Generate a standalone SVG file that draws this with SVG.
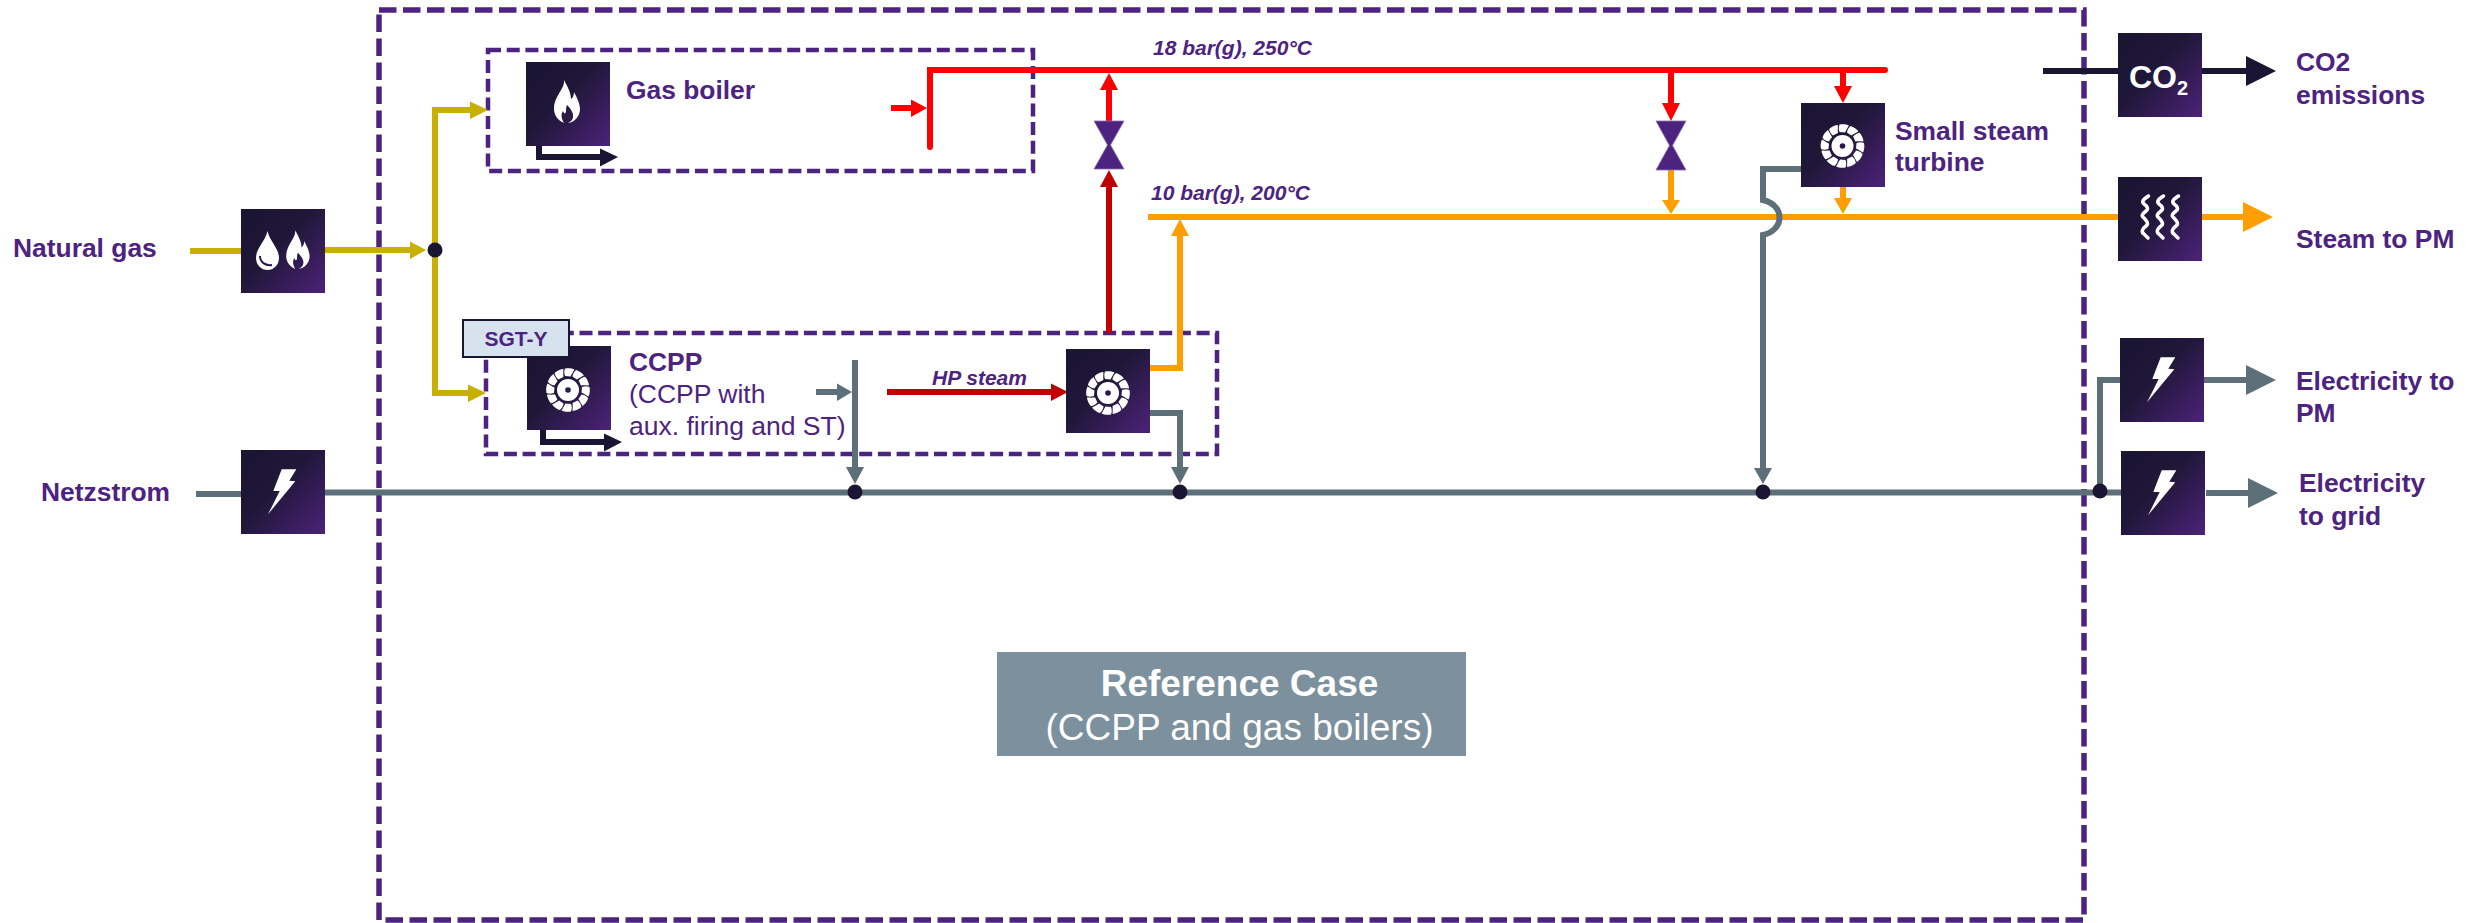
<svg xmlns="http://www.w3.org/2000/svg" width="2468" height="923" viewBox="0 0 2468 923">
<style>
text{font-family:"Liberation Sans",Arial,sans-serif;fill:#4d2380}
.l{font-size:26.400px;font-weight:bold}
.r{font-size:26.500px}
.i{font-size:21px;font-weight:bold;font-style:italic}
.box{fill:none;stroke:#4d2380}
.big{stroke-width:5.500;stroke-dasharray:17.500 6.500}
.sm{stroke-width:4.500;stroke-dasharray:13 5.700}
.c{fill:none;stroke-width:6}
.y{stroke:#c8b000}.yf{fill:#c8b000}
.rd{stroke:#ff0000}.rdf{fill:#ff0000}
.dr{stroke:#c00000}.drf{fill:#c00000}
.o{stroke:#ff9e00}.of{fill:#ff9e00}
.g{stroke:#5d7079}.gf{fill:#5d7079}
.d{stroke:#1b1534}.df{fill:#1b1534}
.v{fill:#4d2380;stroke:#8a70a8;stroke-width:.8}
.w{fill:#fff}
.wv{fill:none;stroke:#fff;stroke-width:3.500;stroke-linecap:round}
</style>
<defs>
<linearGradient id="ig" x1="0.1" y1="0.15" x2="1" y2="1">
<stop offset="0" stop-color="#1b1534"/><stop offset="0.35" stop-color="#1f1738"/><stop offset="1" stop-color="#4d2279"/>
</linearGradient>
<rect id="ic" width="84" height="84" fill="url(#ig)"/>
<path id="flame" class="w" d="M-2,-22 C-1,-13 -12,-6 -12,7 C-12,14 -7,19 -2,21 C-5,16 -5,12 -3,9 C-2,12 -1,12 0,10 C0,7 0,5 1,3 C4,6 8,11 7,15 C7,18 4,20 2,21 C9,20 14,14 14,7 C14,1 10,-6 8,-10 C8,-7 7,-4 5,-3 C5,-10 1,-16 -2,-22 Z"/>
<path id="blade" class="w" d="M-3,-14 C-4,-17 -4,-19 -3,-21.500 C0,-22.200 4,-21.800 6.500,-20.500 C5,-18 3.500,-15.500 2.500,-13.500 Z"/>
<g id="turbine">
<circle r="11" class="w"/><circle r="2.800" fill="#2a1a4c"/>
<use href="#blade"/><use href="#blade" transform="rotate(30)"/><use href="#blade" transform="rotate(60)"/><use href="#blade" transform="rotate(90)"/><use href="#blade" transform="rotate(120)"/><use href="#blade" transform="rotate(150)"/><use href="#blade" transform="rotate(180)"/><use href="#blade" transform="rotate(210)"/><use href="#blade" transform="rotate(240)"/><use href="#blade" transform="rotate(270)"/><use href="#blade" transform="rotate(300)"/><use href="#blade" transform="rotate(330)"/>
</g>
<path id="bolt" class="w" d="M40.700,19.300 L55.300,19.300 L48.300,30.700 L54.300,31.300 L27,64.300 L38.700,41 L32.300,41 Z"/>
<path id="wave" class="wv" d="M3.500,0 C-1,3 -4,5 -1,8 C2,10 4,13 1,15 C-3,18 -4,20 -1,22 C2,25 4,28 1,30 C-3,33 -4,36 -1,38 L3,42"/>
</defs>

<g id="frames">
<rect class="box big" x="379" y="10" width="1705" height="910"/>
<rect class="box sm" x="488" y="50" width="545" height="121"/>
<rect class="box sm" x="486" y="333" width="731" height="121"/>
</g>

<g id="connectors">
<path class="c y" d="M190,251 H241"/>
<path class="c y" d="M325,250 H412"/>
<path class="yf" d="M410,241.500 L426,250 L410,259 Z"/>
<path class="c y" d="M472,110 H435 V393 H470"/>
<path class="yf" d="M470,101.500 L488,110 L470,119 Z"/>
<path class="yf" d="M468,384.500 L486,393 L468,402 Z"/>
<path class="c d" d="M539,146 V157 H602"/>
<path class="df" d="M600,148.500 L618,157 L600,166.500 Z"/>
<path class="c d" d="M543,430 V442 H606"/>
<path class="df" d="M604,433.500 L622,442 L604,451.500 Z"/>
<path class="c rd" stroke-linecap="round" d="M930,147 V70 H1885"/>
<path class="c rd" d="M891,108 H913"/>
<path class="rdf" d="M911,99.500 L927,108 L911,117 Z"/>
<path class="c rd" d="M1109,121 V88"/>
<path class="rdf" d="M1100,90 L1109,73 L1118,90 Z"/>
<path class="c dr" d="M1109,333 V185"/>
<path class="drf" d="M1100,187 L1109,170 L1118,187 Z"/>
<path class="c o" d="M1148,217 H2118"/>
<path class="c o" d="M2202,217 H2245"/>
<path class="of" d="M2243,202 L2273,217 L2243,232 Z"/>
<path class="c o" d="M1150,368 H1180 V234"/>
<path class="of" d="M1171,236 L1180,219 L1189,236 Z"/>
<path class="c rd" d="M1671,70 V105"/>
<path class="rdf" d="M1662,103 L1671,121 L1680,103 Z"/>
<path class="c rd" d="M1843,70 V88"/>
<path class="rdf" d="M1834,86 L1843,103 L1852,86 Z"/>
<path class="c o" d="M1671,170 V202"/>
<path class="of" d="M1662,200 L1671,214 L1680,200 Z"/>
<path class="c o" d="M1843,187 V200"/>
<path class="of" d="M1834,198 L1843,214 L1852,198 Z"/>
<path class="c dr" d="M887,392 H1053"/>
<path class="drf" d="M1051,383.500 L1068,392 L1051,401 Z"/>
<path class="c g" d="M196,494 H241"/>
<path class="c g" d="M325,492.500 H2121"/>
<path class="c g" d="M855,360 V469"/>
<path class="gf" d="M846,467 L855,484 L864,467 Z"/>
<path class="c g" d="M816,392 H839"/>
<path class="gf" d="M837,383.500 L852,392 L837,401 Z"/>
<path class="c g" d="M1150,413 H1180 V469"/>
<path class="gf" d="M1171,467 L1180,484 L1189,467 Z"/>
<path class="c g" d="M1801,169 H1763 V200 C1785,205 1785,230 1763,235 V470"/>
<path class="gf" d="M1754,468 L1763,484 L1772,468 Z"/>
<path class="c g" d="M2100,491 V380 H2120"/>
<path class="c g" d="M2204,380 H2248"/>
<path class="gf" d="M2246,365 L2276,380 L2246,395 Z"/>
<path class="c g" d="M2206,493 H2250"/>
<path class="gf" d="M2248,478 L2278,493 L2248,508 Z"/>
<path class="c d" d="M2043,71 H2118"/>
<path class="c d" d="M2202,71 H2248"/>
<path class="df" d="M2246,56 L2276,71 L2246,86 Z"/>
<circle class="df" cx="435" cy="250" r="7.500"/>
<circle class="df" cx="855" cy="492" r="7.500"/>
<circle class="df" cx="1180" cy="492" r="7.500"/>
<circle class="df" cx="1763" cy="492" r="7.500"/>
<circle class="df" cx="2100" cy="491" r="7.500"/>
</g>

<g id="valve-1"><path class="v" d="M1094,121 H1124 L1110.500,145 L1124,169 H1094 L1107.500,145 Z"/></g>
<g id="valve-2"><path class="v" d="M1656,121 H1686 L1672.500,145.500 L1686,170 H1656 L1669.500,145.500 Z"/></g>

<g id="natural-gas-label"><text class="l" x="13" y="257">Natural gas</text></g>
<g id="netzstrom-label"><text class="l" x="41" y="501">Netzstrom</text></g>

<g id="ng-icon">
<use href="#ic" x="241" y="209"/>
<path class="w" d="M267.500,231 C270,242 279,248 279,258 A11.500,12 0 0 1 256,258 C256,248 265,242 267.500,231 Z"/>
<path d="M260,256 C260,262 265,266 272,265" fill="none" stroke="#2a1a4c" stroke-width="2"/>
<use href="#flame" transform="translate(297,250) scale(.9)"/>
</g>
<g id="netz-icon"><use href="#ic" x="241" y="450"/><use href="#bolt" x="241" y="450"/></g>

<g id="gas-boiler">
<use href="#ic" x="526" y="62"/><use href="#flame" transform="translate(566,102)"/>
<text class="l" x="626" y="99">Gas boiler</text>
</g>
<g id="ccpp">
<use href="#ic" x="527" y="346"/><use href="#turbine" transform="translate(568,390)"/>
<text class="l" x="629" y="371">CCPP</text>
<text class="r" x="629" y="403">(CCPP with</text>
<text class="r" x="629" y="435">aux. firing and ST)</text>
</g>
<g id="sgt-y">
<rect x="463" y="320" width="106" height="37" fill="#d6e3ee" stroke="#1b1534" stroke-width="2"/>
<text x="516" y="346" text-anchor="middle" font-size="21" font-weight="bold">SGT-Y</text>
</g>
<g id="hp-turbine">
<use href="#ic" x="1066" y="349"/><use href="#turbine" transform="translate(1108,393)"/>
<text class="i" x="932" y="385">HP steam</text>
</g>
<g id="small-turbine">
<use href="#ic" x="1801" y="103"/><use href="#turbine" transform="translate(1842.500,146)"/>
<text class="l" x="1895" y="140">Small steam</text>
<text class="l" x="1895" y="171">turbine</text>
</g>
<g id="steam-labels">
<text class="i" x="1153" y="55">18 bar(g), 250°C</text>
<text class="i" x="1151" y="200">10 bar(g), 200°C</text>
</g>
<g id="co2">
<use href="#ic" x="2118" y="33"/>
<text x="2129" y="88" font-size="32" font-weight="bold" style="fill:#fff">CO</text>
<text x="2177" y="95" font-size="20" font-weight="bold" style="fill:#fff">2</text>
<text class="l" x="2296" y="71">CO2</text>
<text class="l" x="2296" y="104">emissions</text>
</g>
<g id="steam-pm">
<use href="#ic" x="2118" y="177"/>
<use href="#wave" x="2145" y="196"/><use href="#wave" x="2160" y="196"/><use href="#wave" x="2175" y="196"/>
<text class="l" x="2296" y="248">Steam to PM</text>
</g>
<g id="elec-pm">
<use href="#ic" x="2120" y="338"/><use href="#bolt" x="2120" y="338"/>
<text class="l" x="2296" y="390">Electricity to</text>
<text class="l" x="2296" y="422">PM</text>
</g>
<g id="elec-grid">
<use href="#ic" x="2121" y="451"/><use href="#bolt" x="2121" y="451"/>
<text class="l" x="2299" y="492">Electricity</text>
<text class="l" x="2299" y="525">to grid</text>
</g>
<g id="reference-case">
<rect x="997" y="652" width="469" height="104" fill="#7c909d"/>
<text x="1239.500" y="696" text-anchor="middle" font-size="37" font-weight="bold" style="fill:#fff">Reference Case</text>
<text x="1239.500" y="740" text-anchor="middle" font-size="37" style="fill:#fff">(CCPP and gas boilers)</text>
</g>
</svg>
